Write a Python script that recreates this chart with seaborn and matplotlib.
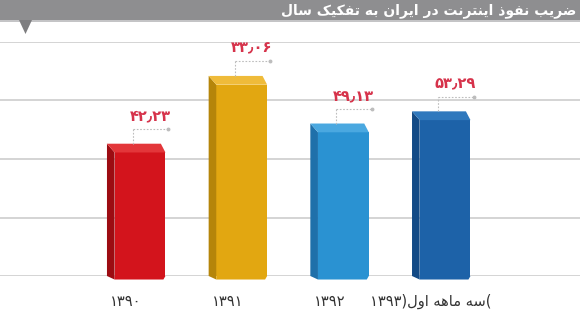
import matplotlib
matplotlib.use("Agg")
import matplotlib.pyplot as plt
import matplotlib.transforms as mtransforms
from matplotlib.patches import Polygon, Rectangle
import seaborn as sns
import pandas as pd

# ---------------- data ----------------
years = ["۱۳۹۰", "۱۳۹۱", "۱۳۹۲", "۱۳۹۳"]
tick_labels = ["۱۳۹۰", "۱۳۹۱", "۱۳۹۲", "۱۳۹۳)__LAST__("]
values = [42.23, 65.4, 49.13, 53.29]
value_labels = ["۴۲٫۲۳", "۳۳٫۰۶", "۴۹٫۱۳", "۵۳٫۲۹"]
front_colors = ["#d3141c", "#e2a711", "#2a92d2", "#1d62a8"]
side_colors = ["#9c0c12", "#b5850a", "#1f70aa", "#134a85"]
top_colors = ["#e3363a", "#efbb3a", "#4aa8e0", "#2f78bd"]
title = "ضریب نفوذ اینترنت در ایران به تفکیک سال"
last_note = "سه ماهه اول"

# ---------------- minimal Persian shaping ----------------
FORMS = {
    "ض": (0xFEBD, 0xFEBE, 0xFEBF, 0xFEC0),
    "ر": (0xFEAD, 0xFEAE, None, None),
    "ی": (0xFBFC, 0xFBFD, 0xFBFE, 0xFBFF),
    "ب": (0xFE8F, 0xFE90, 0xFE91, 0xFE92),
    "ن": (0xFEE5, 0xFEE6, 0xFEE7, 0xFEE8),
    "ف": (0xFED1, 0xFED2, 0xFED3, 0xFED4),
    "و": (0xFEED, 0xFEEE, None, None),
    "ذ": (0xFEAB, 0xFEAC, None, None),
    "ا": (0xFE8D, 0xFE8E, None, None),
    "ت": (0xFE95, 0xFE96, 0xFE97, 0xFE98),
    "د": (0xFEA9, 0xFEAA, None, None),
    "ه": (0xFEE9, 0xFEEA, 0xFEEB, 0xFEEC),
    "ک": (0xFB8E, 0xFB8F, 0xFB90, 0xFB91),
    "س": (0xFEB1, 0xFEB2, 0xFEB3, 0xFEB4),
    "ل": (0xFEDD, 0xFEDE, 0xFEDF, 0xFEE0),
    "م": (0xFEE1, 0xFEE2, 0xFEE3, 0xFEE4),
}


def shape(text):
    out = []
    n = len(text)
    for i, ch in enumerate(text):
        f = FORMS.get(ch)
        if f is None:
            out.append(ch)
            continue
        prev = text[i - 1] if i > 0 else None
        nxt = text[i + 1] if i < n - 1 else None
        join_prev = prev in FORMS and FORMS[prev][2] is not None
        join_next = f[2] is not None and nxt in FORMS
        if join_prev and join_next:
            cp = f[3]
        elif join_prev:
            cp = f[1]
        elif join_next:
            cp = f[2]
        else:
            cp = f[0]
        out.append(chr(cp))
    return "".join(reversed(out))


# ---------------- figure ----------------
sns.set_theme(style="white")
plt.rcParams["font.family"] = ["DejaVu Sans"]

fig = plt.figure(figsize=(5.8, 3.24), dpi=100)
fig.patch.set_facecolor("white")

# title band
fig.patches.append(Rectangle((0, 1 - 20 / 324), 1, 20 / 324, transform=fig.transFigure,
                             facecolor="#8e8e90", edgecolor="none", zorder=0))
fig.patches.append(Rectangle((0, 1 - 22 / 324), 1, 2 / 324, transform=fig.transFigure,
                             facecolor="#c4c4c6", edgecolor="none", zorder=0))
fig.patches.append(Polygon([(19 / 580, 1 - 20 / 324), (32 / 580, 1 - 20 / 324),
                            (25.5 / 580, 1 - 34 / 324)], closed=True,
                           transform=fig.transFigure, facecolor="#7e7e80",
                           edgecolor="none", zorder=0))
fig.text(576 / 580, 1 - 10.5 / 324, shape(title), ha="right", va="center",
         color="white", fontsize=10, fontweight="bold")

ax = fig.add_axes([0, 48 / 324, 1, (276 - 42) / 324])
df = pd.DataFrame({"year": years, "value": values})
sns.barplot(data=df, x="year", y="value", hue="year", palette=front_colors,
            order=years, legend=False, width=0.50, ax=ax, zorder=3,
            edgecolor="none", saturation=1)

ax.set_ylim(0, 80)
ax.set_xlim(-1.377, 4.327)
ax.set_yticks([0, 20, 40, 60, 80])
ax.yaxis.grid(True, color="#c9c9c9", linewidth=1.1)
ax.set_axisbelow(True)
for s in ax.spines.values():
    s.set_visible(False)
ax.set_ylabel("")
ax.set_xlabel("")
ax.tick_params(axis="y", left=False, labelleft=False)
ax.tick_params(axis="x", bottom=False, pad=17, labelsize=10.5, labelcolor="#333333")

labels = list(tick_labels)
labels[-1] = labels[-1].replace("__LAST__", shape(last_note))
ax.set_xticks(range(len(years)))
ax.set_xticklabels(labels)
offset = mtransforms.ScaledTranslation(-14 / 100, 14 / 100, fig.dpi_scale_trans)
for lab in ax.get_xticklabels():
    lab.set_transform(lab.get_transform() + offset)

d = 0.075  # depth in x units
t = 3.0    # depth in y units
for i, bar in enumerate(ax.patches[:len(values)]):
    x0 = bar.get_x()
    x1 = x0 + bar.get_width()
    v = bar.get_height()
    side = Polygon([(x0, -1.2), (x0 - d, -1.2 + t * 0.4), (x0 - d, v + t), (x0, v)],
                   closed=True, facecolor=side_colors[i], edgecolor="none",
                   zorder=3, clip_on=False)
    top = Polygon([(x0, v), (x0 - d, v + t), (x1 - d * 0.6, v + t), (x1, v)],
                  closed=True, facecolor=top_colors[i], edgecolor="none", zorder=3)
    bottom = Polygon([(x0, 0), (x1, 0), (x1 - 0.02, -1.2), (x0, -1.2)],
                     closed=True, facecolor=bar.get_facecolor(), edgecolor="none",
                     zorder=3, clip_on=False)
    ax.add_patch(side)
    ax.add_patch(top)
    ax.add_patch(bottom)
    c = x0 + bar.get_width() / 2
    vx = c - 0.07
    ly = v + 8
    ax.plot([vx, vx], [v + t, ly], color="#bdbdbd", lw=0.8, ls=(0, (1.5, 1.5)), zorder=4)
    ax.plot([vx, x1 + 0.03], [ly, ly], color="#bdbdbd", lw=0.8, ls=(0, (1.5, 1.5)), zorder=4)
    ax.plot([x1 + 0.03], [ly], marker="o", ms=1.8, color="#bdbdbd", zorder=4)
    ax.text(c + 0.1, v + 12.5, value_labels[i], ha="center", va="center",
            color="#d6334b", fontsize=10.5, fontweight="bold", zorder=5)

fig.savefig("out.png", dpi=100)
